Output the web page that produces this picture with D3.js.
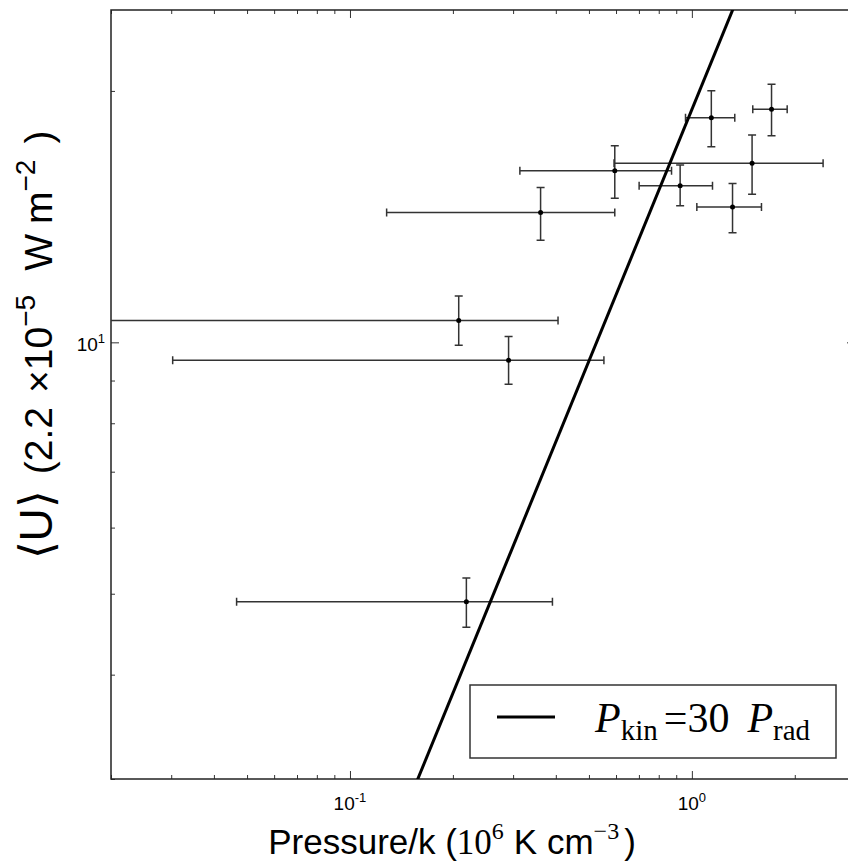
<!DOCTYPE html>
<html>
<head>
<meta charset="utf-8">
<script src="https://cdn.jsdelivr.net/npm/d3@7"></script>
<style>
  body { margin: 0; background: #fff; }
  text { font-family: "Liberation Sans", Arial, sans-serif; }
  .math { font-family: "Liberation Serif", "DejaVu Serif", serif; }
</style>
</head>
<body>
<script>
const pressure     = [0.208, 0.291, 0.219, 0.361, 0.595, 1.50, 1.14, 1.71, 0.924, 1.315];
const pressureLow  = [0.015, 0.0303, 0.0466, 0.128, 0.314, 0.592, 0.958, 1.507, 0.701, 1.034];
const pressureHigh = [0.406, 0.553, 0.391, 0.595, 0.872, 2.42, 1.335, 1.90, 1.149, 1.598];
const energy       = [10.62, 9.52, 4.89, 14.30, 16.05, 16.38, 18.57, 19.01, 15.40, 14.52];
const energyLow    = [9.92, 8.91, 4.56, 13.25, 14.88, 15.04, 17.15, 17.68, 14.57, 13.53];
const energyHigh   = [11.36, 10.16, 5.22, 15.33, 17.20, 17.71, 20.01, 20.37, 16.31, 15.50];

// P_kin = 30 P_rad relation
const lineP = [0.1, 2];
const lineU = [1.9, 38];

const xMajor = [0.1, 1];
const xMajorExp = ['-1', '0'];
const yMajor = [10];
const yMajorExp = ['1'];

const margin = { top: 10, left: 111 };
const width = 744;
const height = 769;

const x = d3.scaleLog().domain([0.02, 3]).range([0, width]);
const y = d3.scaleLog().domain([3, 25]).range([height, 0]);

const svg = d3.select('body').append('svg')
  .attr('width', 848)
  .attr('height', 863);

const g = svg.append('g')
  .attr('transform', `translate(${margin.left}, ${margin.top})`);

g.append('clipPath')
  .attr('id', 'clip')
  .append('rect')
  .attr('width', width)
  .attr('height', height);

const isMajor = v => Math.abs(Math.log10(v) - Math.round(Math.log10(v))) < 1e-9;
const xMinor = x.ticks().filter(v => !isMajor(v));
const yMinor = y.ticks().filter(v => !isMajor(v));

// inward ticks on all four sides
const tickLayer = (axis, transform) => {
  const a = g.append('g')
    .attr('transform', transform)
    .call(axis.tickFormat('').tickSizeOuter(0));
  a.select('.domain').remove();
  a.selectAll('line').attr('stroke', '#333').attr('stroke-width', 1);
};

[[xMajor, 8], [xMinor, 4]].forEach(([vals, len]) => {
  tickLayer(d3.axisBottom(x).tickValues(vals).tickSize(-len), `translate(0, ${height})`);
  tickLayer(d3.axisTop(x).tickValues(vals).tickSize(-len), 'translate(0, 0)');
});
[[yMajor, 8], [yMinor, 4]].forEach(([vals, len]) => {
  tickLayer(d3.axisLeft(y).tickValues(vals).tickSize(-len), 'translate(0, 0)');
  tickLayer(d3.axisRight(y).tickValues(vals).tickSize(-len), `translate(${width}, 0)`);
});

// frame
g.append('rect')
  .attr('width', width)
  .attr('height', height)
  .attr('fill', 'none')
  .attr('stroke', '#222')
  .attr('stroke-width', 1.5);

// tick labels with superscripts
xMajor.forEach((v, i) => {
  const t = g.append('text')
    .attr('x', x(v))
    .attr('y', height + 31)
    .attr('text-anchor', 'middle')
    .style('font-size', '19px');
  t.append('tspan').text('10');
  t.append('tspan').attr('dy', -8).style('font-size', '13px').text(xMajorExp[i]);
});
yMajor.forEach((v, i) => {
  const t = g.append('text')
    .attr('x', -6)
    .attr('y', y(v) + 9)
    .attr('text-anchor', 'end')
    .style('font-size', '19px');
  t.append('tspan').text('10');
  t.append('tspan').attr('dy', -8).style('font-size', '13px').text(yMajorExp[i]);
});

const plot = g.append('g').attr('clip-path', 'url(#clip)');

const idx = d3.range(pressure.length);
const cap = 4;

// horizontal error bars
plot.selectAll('.xerr')
  .data(idx)
  .enter().append('path')
  .attr('class', 'xerr')
  .attr('fill', 'none')
  .attr('stroke', '#333')
  .attr('stroke-width', 1.5)
  .attr('d', i => {
    const x0 = x(pressureLow[i]);
    const x1 = x(pressureHigh[i]);
    const yy = y(energy[i]);
    return `M${x0},${yy}H${x1}M${x0},${yy - cap}V${yy + cap}M${x1},${yy - cap}V${yy + cap}`;
  });

// vertical error bars
plot.selectAll('.yerr')
  .data(idx)
  .enter().append('path')
  .attr('class', 'yerr')
  .attr('fill', 'none')
  .attr('stroke', '#333')
  .attr('stroke-width', 1.5)
  .attr('d', i => {
    const xx = x(pressure[i]);
    const y0 = y(energyLow[i]);
    const y1 = y(energyHigh[i]);
    return `M${xx},${y0}V${y1}M${xx - cap},${y0}H${xx + cap}M${xx - cap},${y1}H${xx + cap}`;
  });

plot.selectAll('circle')
  .data(idx)
  .enter().append('circle')
  .attr('cx', i => x(pressure[i]))
  .attr('cy', i => y(energy[i]))
  .attr('r', 2.5)
  .attr('fill', '#000');

plot.append('path')
  .datum(d3.range(lineP.length))
  .attr('fill', 'none')
  .attr('stroke', '#000')
  .attr('stroke-width', 3)
  .attr('d', d3.line().x(i => x(lineP[i])).y(i => y(lineU[i])));

// legend
const legend = svg.append('g');
legend.append('rect')
  .attr('x', 470)
  .attr('y', 685)
  .attr('width', 366)
  .attr('height', 73)
  .attr('fill', '#fff')
  .attr('stroke', '#333')
  .attr('stroke-width', 1.5);
legend.append('line')
  .attr('x1', 497).attr('x2', 555)
  .attr('y1', 717).attr('y2', 717)
  .attr('stroke', '#000')
  .attr('stroke-width', 3);
const lt = legend.append('text')
  .attr('class', 'math')
  .attr('x', 595)
  .attr('y', 732)
  .style('font-size', '42px');
lt.append('tspan').style('font-style', 'italic').text('P');
lt.append('tspan').attr('dy', 8).style('font-size', '29px').text('kin');
lt.append('tspan').attr('dy', -8).attr('dx', 6).text('=30');
lt.append('tspan').attr('dx', 18).style('font-style', 'italic').text('P');
lt.append('tspan').attr('dy', 8).style('font-size', '29px').text('rad');

// axis titles
const xt = svg.append('text')
  .attr('x', 452)
  .attr('y', 854)
  .attr('text-anchor', 'middle')
  .style('font-size', '35px');
xt.append('tspan').text('Pressure/k (');
xt.append('tspan').attr('class', 'math').text('10');
xt.append('tspan').attr('class', 'math').attr('dy', -15).style('font-size', '24px').text('6');
xt.append('tspan').attr('dy', 15).attr('dx', 10).text('K cm');
xt.append('tspan').attr('class', 'math').attr('dy', -15).style('font-size', '24px').text('−3');
xt.append('tspan').attr('dy', 15).attr('dx', 5).text(')');

const yt = svg.append('text')
  .attr('transform', 'translate(52, 345) rotate(-90)')
  .attr('text-anchor', 'middle')
  .style('font-size', '39px');
yt.append('tspan').style('font-size', '46px').text('⟨U⟩');
yt.append('tspan').attr('dx', 16).text('(2.2');
yt.append('tspan').attr('dx', 14).text('×10');
yt.append('tspan').attr('dy', -17).style('font-size', '28px').text('−5');
yt.append('tspan').attr('dy', 17).attr('dx', 24).text('W');
yt.append('tspan').attr('dx', 10).text('m');
yt.append('tspan').attr('dy', -17).style('font-size', '28px').text('−2');
yt.append('tspan').attr('dy', 17).attr('dx', 16).text(')');
</script>
</body>
</html>
